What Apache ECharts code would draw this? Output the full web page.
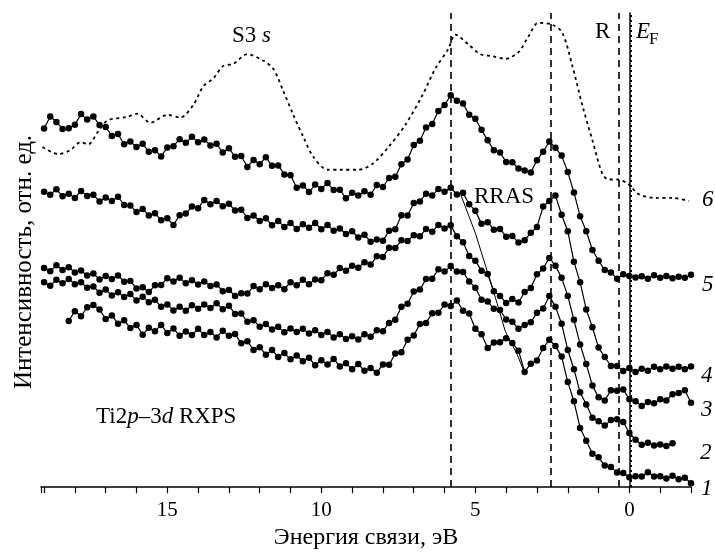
<!DOCTYPE html>
<html>
<head>
<meta charset="utf-8">
<script src="https://cdn.jsdelivr.net/npm/echarts@6/dist/echarts.min.js"></script>
<style>
html, body { margin: 0; padding: 0; background: #fff; }
#chart { width: 715px; height: 555px; }
</style>
</head>
<body>
<div id="chart"></div>
<script>
// энергия связи, эВ (шаг 0.2 эВ)
var energy = [
  19.0, 18.8, 18.6, 18.4, 18.2, 18.0, 17.8, 17.6, 17.4, 17.2,
  17.0, 16.8, 16.6, 16.4, 16.2, 16.0, 15.8, 15.6, 15.4, 15.2,
  15.0, 14.8, 14.6, 14.4, 14.2, 14.0, 13.8, 13.6, 13.4, 13.2,
  13.0, 12.8, 12.6, 12.4, 12.2, 12.0, 11.8, 11.6, 11.4, 11.2,
  11.0, 10.8, 10.6, 10.4, 10.2, 10.0, 9.8, 9.6, 9.4, 9.2,
  9.0, 8.8, 8.6, 8.4, 8.2, 8.0, 7.8, 7.6, 7.4, 7.2,
  7.0, 6.8, 6.6, 6.4, 6.2, 6.0, 5.8, 5.6, 5.4, 5.2,
  5.0, 4.8, 4.6, 4.4, 4.2, 4.0, 3.8, 3.6, 3.4, 3.2,
  3.0, 2.8, 2.6, 2.4, 2.2, 2.0, 1.8, 1.6, 1.4, 1.2,
  1.0, 0.8, 0.6, 0.4, 0.2, 0.0, -0.2, -0.4, -0.6, -0.8,
  -1.0, -1.2, -1.4, -1.6, -1.8, -2.0
];

// спектры 1-5 (интенсивность, отн. ед.)
var curve5 = [
  91.5, 94.6, 93.2, 91.4, 91.6, 92.5, 95.2, 93.8, 94.6, 92.4,
  91.9, 89.6, 90.1, 87.5, 88.2, 86.8, 87.6, 85.6, 86.0, 84.4,
  86.7, 87.0, 88.8, 87.9, 89.4, 88.0, 88.7, 87.2, 87.6, 85.4,
  86.5, 84.3, 84.5, 81.7, 83.5, 82.4, 84.2, 82.0, 82.1, 79.8,
  79.6, 76.4, 77.0, 75.3, 77.2, 76.1, 77.6, 75.8, 75.9, 73.7,
  75.1, 74.4, 75.5, 74.6, 77.1, 76.6, 78.9, 79.2, 82.4, 83.6,
  87.3, 88.4, 91.8, 92.7, 96.0, 97.5, 100.0, 98.6, 97.9, 95.0,
  94.0, 91.2, 88.5, 86.0, 85.4, 83.0, 82.9, 81.3, 80.8, 80.3,
  83.4, 85.6, 88.2, 86.6, 84.6, 80.4, 75.2, 69.1, 65.3, 60.5,
  57.8, 55.4, 54.8, 53.2, 54.3, 53.9, 53.5, 53.8, 53.2, 54.1,
  53.4, 53.9, 53.3, 53.7, 53.4, 54.2
];
var curve4 = [
  75.4, 74.6, 76.0, 74.2, 74.9, 73.8, 75.6, 74.3, 74.6, 72.9,
  73.9, 73.0, 74.1, 72.0, 71.9, 70.2, 71.0, 69.3, 69.9, 68.1,
  68.6, 66.9, 69.4, 69.8, 71.6, 71.2, 73.3, 72.2, 73.0, 71.7,
  72.3, 70.6, 70.8, 68.7, 69.3, 67.9, 68.6, 66.8, 67.9, 66.4,
  67.4, 65.9, 67.1, 66.2, 67.4, 65.8, 66.9, 65.4, 66.0, 64.6,
  65.3, 63.7, 64.4, 62.6, 63.2, 62.9, 65.4, 65.8, 69.4, 69.3,
  72.5, 72.9, 74.9, 74.4, 76.1, 75.4, 76.4, 74.7, 75.1, 72.2,
  70.5, 67.2, 67.6, 65.7, 65.9, 63.9, 64.1, 62.4, 63.0, 64.9,
  66.4, 71.6, 73.0, 74.4, 69.5, 65.3, 57.5, 52.3, 45.3, 40.8,
  35.6, 33.2, 30.9, 30.9, 29.6, 30.4, 29.4, 30.2, 29.7, 30.7,
  30.1, 30.8, 30.2, 30.7, 30.1, 30.8
];
var curve3 = [
  55.9, 55.1, 56.6, 55.4, 56.1, 54.8, 55.3, 54.0, 54.5, 53.0,
  53.9, 53.1, 54.0, 52.4, 52.6, 50.7, 51.0, 49.8, 51.5, 51.6,
  53.3, 52.5, 53.4, 52.0, 52.8, 51.7, 52.5, 51.3, 51.7, 50.0,
  50.3, 48.8, 49.5, 49.4, 51.3, 50.5, 51.8, 50.8, 51.5, 50.5,
  52.3, 51.5, 52.9, 51.8, 53.0, 52.8, 54.6, 54.2, 55.9, 55.2,
  56.5, 56.0, 57.4, 56.8, 58.9, 58.7, 61.1, 61.0, 63.0, 62.8,
  64.3, 64.0, 65.9, 65.2, 66.9, 66.0, 66.8, 64.0, 62.5, 59.0,
  57.8, 55.2, 54.4, 50.0, 48.8, 47.0, 48.0, 47.1, 49.8, 50.8,
  54.3, 55.8, 58.5, 56.5, 53.4, 48.8, 42.7, 36.4, 31.4, 25.9,
  22.9, 22.1, 24.7, 24.6, 24.9, 22.4, 21.9, 20.7, 21.7, 21.4,
  22.4, 22.1, 23.7, 24.0, 24.7, 21.5
];
var curve2 = [
  52.3, 51.4, 52.9, 52.0, 53.1, 51.8, 52.3, 50.9, 51.2, 49.6,
  50.4, 48.9, 49.7, 48.5, 49.3, 47.6, 48.6, 47.2, 47.8, 46.0,
  46.6, 45.1, 46.0, 45.0, 46.4, 45.5, 46.6, 45.7, 46.9, 45.4,
  46.3, 44.2, 44.3, 42.2, 42.6, 40.9, 41.6, 40.2, 40.9, 39.5,
  40.5, 39.6, 40.4, 39.2, 40.0, 38.8, 39.6, 38.2, 39.0, 37.8,
  38.5, 37.7, 39.0, 38.4, 40.0, 39.8, 41.9, 42.7, 46.0, 46.8,
  49.9, 50.4, 53.1, 53.2, 55.6, 55.0, 56.4, 55.0, 54.9, 52.5,
  50.9, 47.8, 47.4, 45.5, 45.2, 42.8, 42.2, 40.4, 41.4, 42.1,
  44.5, 45.6, 48.8, 46.0, 41.7, 35.0, 30.1, 24.2, 21.1, 17.7,
  16.8, 15.7, 17.1, 17.3, 16.6, 13.8, 12.1, 10.8, 11.3, 10.6,
  10.9, 10.5, 11.2, null, null, null
];
var curve1 = [
  null, null, null, null, 42.4, 44.9, 43.6, 45.9, 46.5, 45.3,
  42.9, 43.8, 41.7, 42.6, 40.6, 41.4, 38.9, 40.7, 39.8, 41.4,
  39.3, 40.5, 38.6, 39.7, 38.8, 40.4, 38.8, 39.6, 38.2, 39.9,
  38.6, 39.1, 36.7, 37.2, 35.0, 35.7, 33.8, 35.0, 33.2, 34.2,
  32.6, 33.6, 32.1, 33.0, 31.1, 32.4, 31.3, 32.7, 30.8, 31.6,
  30.1, 31.4, 29.7, 30.4, 29.2, 31.3, 31.2, 34.1, 34.4, 37.6,
  38.7, 41.6, 41.9, 44.4, 44.5, 46.6, 46.2, 47.6, 45.0, 44.3,
  40.4, 39.0, 35.5, 36.9, 37.0, 38.0, 36.8, 34.8, 29.4, 31.5,
  32.3, 35.5, 37.6, 36.0, 33.3, 26.8, 21.9, 15.1, 11.8, 8.5,
  7.6, 5.5, 5.1, 3.7, 3.6, 2.5, 2.8, 2.7, 3.8, 2.7,
  2.8, 2.2, 2.9, 2.0, 2.4, 1.0
];

// спектр 6 (S3s, пунктир)
var s3Energy = [
  19.05, 18.54, 18.15, 17.82, 17.56, 17.27, 16.95, 16.3, 15.97, 15.55,
  15.0, 14.58, 14.16, 13.83, 13.51, 13.18, 12.86, 12.4, 11.88, 11.56,
  11.23, 10.91, 10.58, 10.26, 9.8, 9.38, 8.8, 8.34, 7.82, 7.27,
  6.72, 6.3, 5.88, 5.65, 5.23, 4.84, 4.45, 4.03, 3.6, 3.28,
  2.95, 2.5, 2.18, 1.85, 1.53, 1.2, 0.88, 0.68, 0.36, 0.03,
  -0.29, -0.84, -1.4, -1.92
];
var s3Intensity = [
  86.8, 85.0, 86.0, 88.0, 87.5, 90.5, 93.5, 94.5, 95.3, 93.0,
  95.0, 94.3, 97.5, 102.3, 104.3, 107.5, 108.0, 110.5, 108.8, 106.8,
  101.0, 95.0, 89.3, 84.3, 81.0, 81.0, 81.0, 82.5, 86.8, 92.5,
  100.0, 106.8, 111.8, 115.5, 113.0, 110.5, 110.0, 109.3, 111.0, 115.0,
  118.5, 118.0, 116.0, 107.5, 97.5, 88.5, 80.0, 78.5, 78.5, 77.3,
  74.8, 73.8, 73.8, 73.0
];

// линия RRAS
var rrasEnergy = [5.49, 5.0, 4.61, 4.29, 4.03, 3.64, 3.41];
var rrasIntensity = [75.0, 64.8, 55.0, 46.8, 39.8, 33.8, 29.3];

var xLabels = [15, 10, 5, 0];
var dashLines = [5.8, 2.55, 0.35];
var fermiLevel = -0.03;

function toPairs(xs, ys) {
    var out = [];
    for (var i = 0; i < xs.length; i++) {
        if (ys[i] != null) out.push([xs[i], ys[i]]);
    }
    return out;
}

var serif = '"Liberation Serif", "DejaVu Serif", serif';

function dotSeries(name, ys) {
    return {
        name: name,
        type: 'line',
        data: toPairs(energy, ys),
        symbol: 'circle',
        symbolSize: 6.5,
        showSymbol: true,
        itemStyle: { color: '#000' },
        lineStyle: { color: '#000', width: 1.2 },
        z: 3
    };
}

function label(text, left, top, size, italic) {
    return { type: 'text', left: left, top: top,
        style: { text: text, font: (italic ? 'italic ' : '') + size + 'px ' + serif, fill: '#000' } };
}

var marks = dashLines.map(function (v) {
    return { xAxis: v, lineStyle: { type: [7, 5], width: 1.6, color: '#000' } };
});
// уровень Ферми - точечная линия
marks.push({ xAxis: fermiLevel, lineStyle: { type: [2, 3], width: 2, color: '#000' } });

var myChart = echarts.init(document.getElementById('chart'));
myChart.setOption({
    animation: false,
    backgroundColor: '#fff',
    grid: { left: 41, right: 24, top: 13, bottom: 58 },
    xAxis: {
        type: 'value',
        inverse: true,
        min: -2,
        max: 19.1,
        interval: 1,
        name: 'Энергия связи, эВ',
        nameLocation: 'middle',
        nameGap: 32,
        nameTextStyle: { fontFamily: serif, fontSize: 24, color: '#000' },
        axisLine: { lineStyle: { color: '#000', width: 1.5 } },
        axisTick: { length: 6, lineStyle: { color: '#000', width: 1.2 } },
        axisLabel: {
            margin: 13,
            fontFamily: serif,
            fontSize: 21,
            color: '#000',
            formatter: function (v) {
                return xLabels.indexOf(Math.round(v * 10) / 10) >= 0 ? String(Math.round(v)) : '';
            }
        },
        splitLine: { show: false }
    },
    yAxis: {
        type: 'value',
        min: 0,
        max: 121,
        axisLine: { show: true, lineStyle: { color: '#000', width: 1.5 } },
        axisTick: { show: false },
        axisLabel: { show: false },
        splitLine: { show: false }
    },
    graphic: [
        {
            type: 'text', x: 24, y: 262, rotation: Math.PI / 2,
            style: {
                text: 'Интенсивность, отн. ед.', font: '25px ' + serif, fill: '#000',
                align: 'center', verticalAlign: 'middle',
                textAlign: 'center', textVerticalAlign: 'middle'
            }
        },
        { type: 'text', left: 232, top: 24, style: { text: '{a|S3 }{b|s}', rich: {
            a: { font: '23px ' + serif, fill: '#000' },
            b: { font: 'italic 23px ' + serif, fill: '#000' } } } },
        label('R', 595, 20, 23, false),
        label('E', 636, 20, 23, true),
        label('F', 649, 31, 17, false),
        label('RRAS', 474, 185, 23, false),
        { type: 'text', left: 96, top: 405, style: { text: '{a|Ti2}{b|p}{a|–3}{b|d}{a| RXPS}', rich: {
            a: { font: '23px ' + serif, fill: '#000' },
            b: { font: 'italic 23px ' + serif, fill: '#000' } } } },
        label('6', 702, 188, 23, true),
        label('5', 702, 273, 23, true),
        label('4', 701, 364, 23, true),
        label('3', 701, 398, 23, true),
        label('2', 700, 441, 23, true),
        label('1', 701, 477, 23, true)
    ],
    series: [
        {
            name: 'S3s',
            type: 'line',
            data: toPairs(s3Energy, s3Intensity),
            smooth: 0.3,
            showSymbol: false,
            lineStyle: { color: '#000', width: 1.8, type: [3, 3.5] },
            markLine: {
                silent: true,
                symbol: 'none',
                label: { show: false },
                data: marks
            },
            z: 2
        },
        dotSeries('5', curve5),
        dotSeries('4', curve4),
        dotSeries('3', curve3),
        dotSeries('2', curve2),
        dotSeries('1', curve1),
        {
            name: 'RRAS',
            type: 'line',
            data: toPairs(rrasEnergy, rrasIntensity),
            showSymbol: false,
            lineStyle: { color: '#000', width: 1 },
            z: 3
        }
    ]
});
</script>
</body>
</html>
